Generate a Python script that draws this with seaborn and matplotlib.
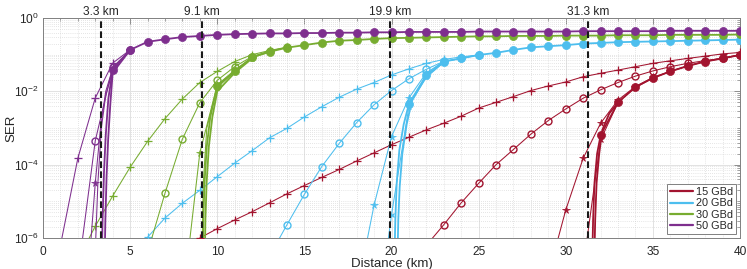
import numpy as np
import pandas as pd
import seaborn as sns
import matplotlib.pyplot as plt
from matplotlib.lines import Line2D

# Baud rates, colours and reach at the SER threshold
rates = ['15 GBd', '20 GBd', '30 GBd', '50 GBd']
colors = ['#A2142F', '#4DBEEE', '#77AC30', '#7E2F8E']
reach_km = [31.3, 19.9, 9.1, 3.3]

# --- 15 GBd ---
d15_plus = list(range(9, 41))
s15_plus = [1.0e-6, 1.8e-6, 3.1e-6, 5.2e-6, 9.1e-6, 1.6e-5, 2.7e-5, 4.5e-5, 7.4e-5, 1.26e-4,
            2.1e-4, 3.5e-4, 5.6e-4, 8.9e-4, 1.35e-3, 2.1e-3, 3.5e-3, 5.0e-3, 7.2e-3, 1.05e-2,
            1.4e-2, 1.8e-2, 2.5e-2, 3.1e-2, 3.8e-2, 4.7e-2, 5.8e-2, 6.8e-2, 7.9e-2, 9.1e-2,
            0.105, 0.115]
d15_circ = list(range(22, 41))
s15_circ = [6.3e-7, 2.3e-6, 9.1e-6, 3.1e-5, 1.0e-4, 2.6e-4, 6.8e-4, 1.6e-3, 3.3e-3, 6.5e-3,
            1.1e-2, 1.74e-2, 2.6e-2, 3.6e-2, 4.7e-2, 5.8e-2, 6.9e-2, 7.9e-2, 9.8e-2]
d15_star = list(range(29, 41))
s15_star = [1e-7, 5.8e-6, 1.5e-4, 1.35e-3, 5.8e-3, 1.35e-2, 2.4e-2, 3.5e-2, 5.0e-2, 6.6e-2,
            8.1e-2, 0.1]
d15_cross = list(range(31, 41))
s15_cross = [1.6e-7, 4.7e-4, 5.0e-3, 1.26e-2, 2.3e-2, 3.5e-2, 4.9e-2, 6.5e-2, 7.9e-2, 9.8e-2]
d15_dot = [31.5, 31.57, 31.65, 31.8, 32, 33, 34, 35, 36, 37, 38, 39, 40]
s15_dot = [1e-7, 3.2e-6, 3.2e-5, 2.0e-4, 6.3e-4, 5.0e-3, 1.32e-2, 2.3e-2, 3.5e-2, 4.9e-2,
           6.5e-2, 7.9e-2, 9.8e-2]
d15_bold = [31.62, 31.69, 31.77, 31.92, 32.1, 32.5, 33]
s15_bold = [1e-7, 3.2e-6, 3.2e-5, 2.0e-4, 8.9e-4, 2.5e-3, 5.0e-3]

# --- 20 GBd ---
d20_plus = list(range(5, 26))
s20_plus = [5e-7, 1.05e-6, 3.5e-6, 8.9e-6, 2.0e-5, 4.7e-5, 1.1e-4, 2.4e-4, 5.4e-4, 9.8e-4,
            2.0e-3, 3.8e-3, 6.9e-3, 1.15e-2, 1.74e-2, 2.8e-2, 4.1e-2, 5.8e-2, 7.4e-2, 8.7e-2,
            9.8e-2]
d20_circ = list(range(13, 26))
s20_circ = [3.2e-7, 2.3e-6, 1.55e-5, 8.9e-5, 3.8e-4, 1.4e-3, 4.3e-3, 1.05e-2, 2.2e-2, 4.0e-2,
            6.6e-2, 7.9e-2, 9.8e-2]
d20_star = list(range(18, 25))
s20_star = [3.2e-8, 7.9e-6, 5.8e-4, 6.6e-3, 3.2e-2, 6.5e-2, 7.9e-2]
d20_cross = list(range(19, 24))
s20_cross = [1e-9, 4.3e-6, 3.8e-3, 2.5e-2, 6.3e-2]
d20_dot = [20.15, 20.22, 20.3, 20.45, 20.7] + list(range(21, 41))
s20_dot = [1e-7, 3.2e-6, 3.2e-5, 2.5e-4, 1.26e-3, 4.5e-3, 2.8e-2, 6.5e-2, 7.9e-2, 9.8e-2,
           0.112, 0.135, 0.158, 0.17, 0.182, 0.2, 0.209, 0.219, 0.224, 0.229, 0.234, 0.24,
           0.245, 0.251, 0.257]
d20_bold = [20.32, 20.39, 20.47, 20.62, 20.87, 21.2, 22, 23]
s20_bold = [1e-7, 3.2e-6, 2.5e-5, 2.0e-4, 1.26e-3, 6.3e-3, 2.5e-2, 6.3e-2]

# --- 30 GBd ---
d30_plus = list(range(2, 15))
s30_plus = [2.5e-7, 2.1e-6, 1.4e-5, 8.5e-5, 4.3e-4, 1.8e-3, 6.2e-3, 1.74e-2, 3.5e-2, 6.5e-2,
            0.1, 0.13, 0.16]
d30_circ = list(range(6, 15))
s30_circ = [4e-7, 1.66e-5, 5.0e-4, 4.9e-3, 2.0e-2, 4.7e-2, 8.9e-2, 0.126, 0.158]
d30_star = list(range(8, 14))
s30_star = [1.6e-8, 2.1e-4, 1.5e-2, 3.8e-2, 8.3e-2, 0.117]
d30_cross = [9.1, 9.2, 9.4, 10, 11, 12]
s30_cross = [1e-7, 3.2e-5, 1e-3, 1.26e-2, 3.5e-2, 8.3e-2]
d30_dot = [9.15, 9.2, 9.27, 9.4, 9.6] + list(range(10, 41))
s30_dot = [1e-7, 3.2e-6, 3.2e-5, 3.2e-4, 2.0e-3, 1.4e-2, 3.5e-2, 8.5e-2, 0.12, 0.155, 0.182,
           0.214, 0.24, 0.251, 0.269, 0.282, 0.288, 0.295, 0.302, 0.309, 0.316, 0.316, 0.324,
           0.324, 0.324, 0.331, 0.331, 0.331, 0.339, 0.339, 0.339, 0.347, 0.347, 0.347, 0.347,
           0.355]
d30_bold = [9.27, 9.32, 9.39, 9.52, 9.72, 10, 11, 12]
s30_bold = [1e-7, 3.2e-6, 3.2e-5, 3.2e-4, 2.0e-3, 1.0e-2, 3.2e-2, 7.9e-2]

# --- 50 GBd ---
d50_plus = [1, 2, 3, 4, 5]
s50_plus = [6.3e-7, 1.5e-4, 6.6e-3, 5.9e-2, 0.135]
d50_circ = [2, 3, 4, 5]
s50_circ = [1e-7, 4.5e-4, 4.5e-2, 0.135]
d50_star = [2.6, 3.0, 3.3, 3.6, 4, 5]
s50_star = [1e-7, 3.2e-5, 1e-3, 1e-2, 4.2e-2, 0.135]
d50_cross = [2.95, 3.15, 3.35, 3.6, 4, 5]
s50_cross = [1e-7, 3.2e-5, 1e-3, 7.9e-3, 3.5e-2, 0.135]
d50_dot = [3.35, 3.42, 3.5, 3.6, 3.75] + list(range(4, 41))
s50_dot = [1e-7, 3.2e-6, 6.3e-5, 6.3e-4, 6.3e-3, 0.038, 0.135, 0.224, 0.263, 0.302, 0.324,
           0.347, 0.363, 0.372, 0.380, 0.380, 0.389, 0.389, 0.398, 0.398, 0.407, 0.407, 0.417,
           0.417, 0.417, 0.417, 0.427, 0.427, 0.427, 0.427, 0.427, 0.427, 0.437, 0.437, 0.437,
           0.437, 0.437, 0.447, 0.447, 0.447, 0.447, 0.447]
d50_bold = [3.52, 3.58, 3.65, 3.74, 3.87, 4, 5]
s50_bold = [1e-7, 3.2e-6, 5.0e-5, 5.0e-4, 5.0e-3, 3.2e-2, 0.135]

curves = {
    '15 GBd': [('plus', d15_plus, s15_plus), ('circ', d15_circ, s15_circ),
               ('star', d15_star, s15_star), ('cross', d15_cross, s15_cross),
               ('bold', d15_bold, s15_bold), ('dot', d15_dot, s15_dot)],
    '20 GBd': [('plus', d20_plus, s20_plus), ('circ', d20_circ, s20_circ),
               ('star', d20_star, s20_star), ('cross', d20_cross, s20_cross),
               ('bold', d20_bold, s20_bold), ('dot', d20_dot, s20_dot)],
    '30 GBd': [('plus', d30_plus, s30_plus), ('circ', d30_circ, s30_circ),
               ('star', d30_star, s30_star), ('cross', d30_cross, s30_cross),
               ('bold', d30_bold, s30_bold), ('dot', d30_dot, s30_dot)],
    '50 GBd': [('plus', d50_plus, s50_plus), ('circ', d50_circ, s50_circ),
               ('star', d50_star, s50_star), ('cross', d50_cross, s50_cross),
               ('bold', d50_bold, s50_bold), ('dot', d50_dot, s50_dot)],
}

rows = []
for rate, lst in curves.items():
    for kind, d, s in lst:
        for x, y in zip(d, s):
            rows.append((rate, kind, x, y))
df = pd.DataFrame(rows, columns=['rate', 'kind', 'distance', 'ser'])

styles = {
    'plus': dict(marker='+', lw=0.75, ms=5.5, mew=0.9),
    'circ': dict(marker='o', lw=0.75, ms=5, mew=1.0, mfc='none'),
    'star': dict(marker='*', lw=0.75, ms=5.5, mew=0.5),
    'cross': dict(marker='x', lw=0.75, ms=3.5, mew=0.9),
    'bold': dict(marker='None', lw=1.3),
    'dot': dict(marker='o', lw=1.3, ms=5.8, mew=0.5),
}

sns.set_theme(style='white')
plt.rcParams['font.family'] = ['Liberation Sans', 'DejaVu Sans']
plt.rcParams['mathtext.default'] = 'regular'

fig = plt.figure(figsize=(7.47, 2.69), dpi=100)
ax = fig.add_axes([43 / 747, 1 - 238 / 269, 697 / 747, 220 / 269])
ax.set_yscale('log')

for rate, col in zip(rates, colors):
    sub = df[df['rate'] == rate]
    for kind in ['plus', 'circ', 'star', 'cross', 'bold', 'dot']:
        g = sub[sub['kind'] == kind]
        dist = g['distance'].to_numpy()
        marks = [i for i, v in enumerate(dist) if abs(v - round(v)) < 1e-9]
        st = dict(styles[kind])
        st.setdefault('mfc', col)
        sns.lineplot(x=dist, y=g['ser'].to_numpy(), ax=ax, color=col, mec=col,
                     markevery=marks, estimator=None, errorbar=None, legend=False,
                     zorder=3, **st)

for x in reach_km:
    ax.axvline(x, color='k', lw=1.5, ls=(0, (3.2, 1.6)), zorder=4)
    ax.text(x, 0.998, f'{x} km', transform=ax.get_xaxis_transform(), ha='center',
            va='bottom', fontsize=8.6, color='#262626')

ax.set_xlim(0, 40)
ax.set_ylim(1e-6, 1)
ax.set_xticks(np.arange(0, 41, 5))
ax.set_xticks(np.arange(0, 41, 1), minor=True)
ax.set_yticks([1e-6, 1e-4, 1e-2, 1e0])
ax.set_yticklabels(['$10^{-6}$', '$10^{-4}$', '$10^{-2}$', '$10^{0}$'])
ax.set_yticks([k * 10.0 ** e for e in range(-6, 0) for k in range(1, 10)
               if not (k == 1 and e % 2 == 0)], minor=True)
ax.yaxis.set_minor_formatter(plt.NullFormatter())

ax.grid(which='major', color='#e2e2e2', lw=0.7, ls='-')
ax.grid(which='minor', color='#cdcdcd', lw=0.5, ls=(0, (1, 2)))
ax.set_axisbelow(True)
ax.tick_params(which='both', direction='in', top=True, right=True, colors='0.5',
               labelcolor='#262626', labelsize=8.6)
ax.tick_params(which='major', length=4, width=0.6)
ax.tick_params(which='minor', length=2, width=0.5)
ax.tick_params(axis='x', pad=6)
ax.tick_params(axis='y', pad=3)
for sp in ax.spines.values():
    sp.set_color('0.5')
    sp.set_linewidth(0.7)

ax.set_xlabel('Distance (km)', fontsize=9.5, color='#262626', labelpad=0)
ax.set_ylabel('SER', fontsize=9.5, color='#262626')
ax.yaxis.set_label_coords(-0.036, 0.5)

handles = [Line2D([], [], color=c, lw=1.6) for c in colors]
leg = ax.legend(handles, rates, loc='lower right', fontsize=7.8, frameon=True,
                fancybox=False, edgecolor='0.5', framealpha=1, borderaxespad=0.35,
                handlelength=2.1, handletextpad=0.3, labelspacing=0.12, borderpad=0.3)
leg.get_frame().set_linewidth(0.7)
leg.set_zorder(6)

fig.savefig('out.png', dpi=100)
